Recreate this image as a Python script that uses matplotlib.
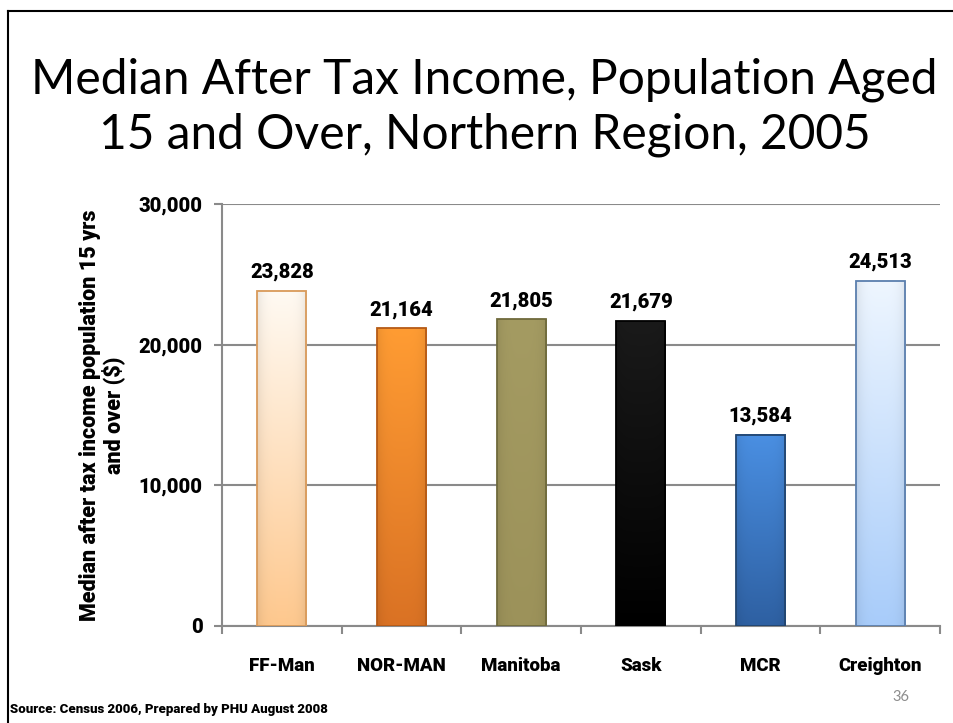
import numpy as np
import matplotlib
matplotlib.use("Agg")
import matplotlib.pyplot as plt
from matplotlib.colors import to_rgb

regions = ["FF-Man", "NOR-MAN", "Manitoba", "Sask", "MCR", "Creighton"]
income = [23828, 21164, 21805, 21679, 13584, 24513]
top_colors = ["#fffaf3", "#ff9c33", "#a49b62", "#1a1a1a", "#4a8fe2", "#eef6ff"]
bottom_colors = ["#fec88e", "#da7224", "#9c925a", "#000000", "#2e60a2", "#a8ccfa"]
edge_colors = ["#d99a5a", "#b55a16", "#6f6a3c", "#000000", "#22456f", "#5b7fae"]
yticks = [0, 10000, 20000, 30000]

TITLE = "Median After Tax Income, Population Aged\n15 and Over, Northern Region, 2005"
YLABEL = "Median after tax income population 15 yrs\nand over ($)"
SOURCE = "Source: Census 2006, Prepared by PHU August 2008"

plt.rcParams["font.family"] = ["Lato", "DejaVu Sans"]
NARROW = ["Roboto", "DejaVu Sans"]
GRID = "#8a8a8a"


def gradient_bar(ax, x, h, w, c_top, c_bot, edge):
    # vertical blend from top to bottom colour, with a soft darkening at the sides
    t = np.linspace(0, 1, 120)[:, None]
    s = np.linspace(-1, 1, 40)[None, :]
    top, bot = np.array(to_rgb(c_top)), np.array(to_rgb(c_bot))
    img = top[None, None, :] * (1 - t[..., None]) + bot[None, None, :] * t[..., None]
    shade = 1 - 0.08 * (np.abs(s) ** 4)
    img = np.clip(img * shade[..., None], 0, 1)
    ax.imshow(img, extent=(x - w / 2, x + w / 2, 0, h), origin="upper",
              aspect="auto", zorder=3, interpolation="bilinear")
    ax.bar(x, h, w, fill=False, edgecolor=edge, linewidth=1.3, zorder=4)


fig = plt.figure(figsize=(9.54, 7.23), dpi=100)
ax = fig.add_axes([0.2327, 0.1342, 0.7526, 0.5837])

x = np.arange(len(regions))
bw = 0.41
for i, v in enumerate(income):
    gradient_bar(ax, x[i], v, bw, top_colors[i], bottom_colors[i], edge_colors[i])
    ax.text(x[i], v + 650, f"{v:,}", ha="center", va="bottom",
            fontsize=14.5, fontweight="black", family=NARROW, zorder=5)

ax.set_xlim(-0.5, len(regions) - 0.5)
ax.set_ylim(0, 30000)
ax.set_yticks(yticks)
ax.set_yticklabels([f"{t:,}" for t in yticks], fontsize=14.5,
                   fontweight="black", family=NARROW)
ax.set_xticks(x)
ax.set_xticklabels(regions, fontsize=13.5, fontweight="black", family=NARROW)
ax.set_xticks(np.arange(len(regions) + 1) - 0.5, minor=True)
ax.tick_params(axis="x", which="major", length=0, pad=22)
ax.tick_params(axis="x", which="minor", length=6, color=GRID, width=1.5)
ax.tick_params(axis="y", length=6, color=GRID, width=1.5, pad=8)
ax.yaxis.grid(True, color=GRID, linewidth=1.5, zorder=1)
ax.set_axisbelow(True)
for side in ["top", "right"]:
    ax.spines[side].set_visible(False)
for side in ["left", "bottom"]:
    ax.spines[side].set_color(GRID)
    ax.spines[side].set_linewidth(1.5)

ax.set_ylabel(YLABEL, fontsize=15.5, fontweight="black", family=NARROW,
              labelpad=10, linespacing=1.0)

fig.text(0.508, 0.852, TITLE, ha="center", va="center", fontsize=34.5,
         linespacing=1.3)
fig.text(0.011, 0.018, SOURCE, ha="left", va="center", fontsize=9.5,
         fontweight="black", family=NARROW)
fig.text(0.944, 0.036, "36", ha="center", va="center", fontsize=10.5,
         color="#8c8c8c")

# slide frame: top and left edges
fig.add_artist(plt.Line2D([0.0084, 1.0], [0.985, 0.985], color="black",
                          linewidth=1.5, transform=fig.transFigure))
fig.add_artist(plt.Line2D([0.0084, 0.0084], [0.0, 0.985], color="black",
                          linewidth=1.5, transform=fig.transFigure))

fig.savefig("out.png", dpi=100)
